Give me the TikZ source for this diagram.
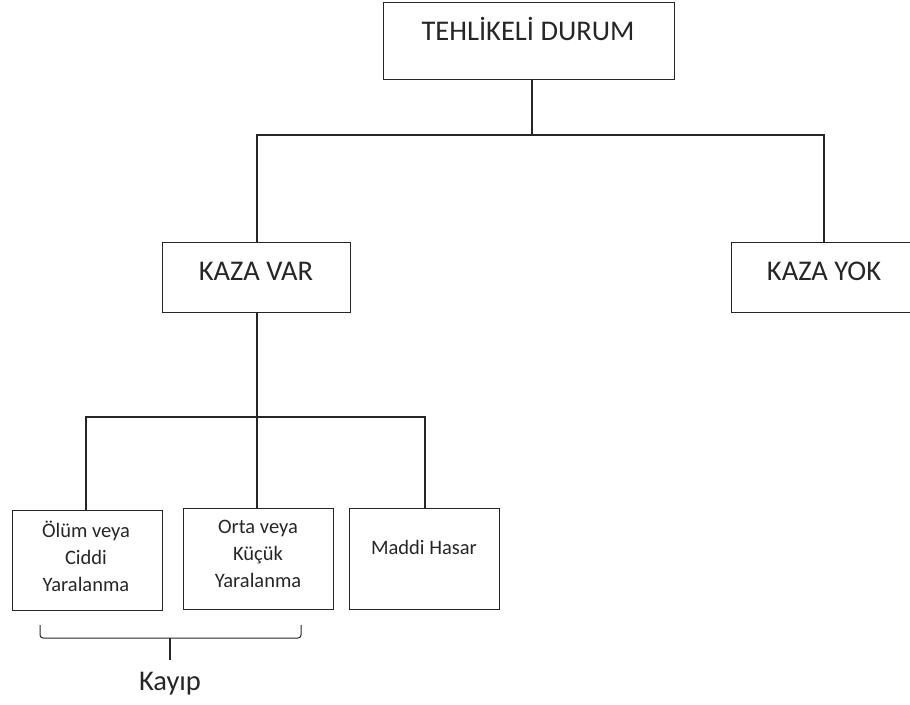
\documentclass[tikz,border=0pt]{standalone}
\usepackage{fontspec}
\setmainfont{Carlito}
\usetikzlibrary{positioning}
\begin{document}
\begin{tikzpicture}[x=1pt,y=-1pt,
  box/.style={draw=black!85,line width=1.2pt,minimum width=#1,anchor=north west,inner sep=0pt},
  big/.style={font=\fontsize{28.5}{32}\selectfont,text=black!85},
  small/.style={font=\fontsize{20.5}{27}\selectfont,text=black!85,align=center},
  conn/.style={draw=black!85,line width=1.1pt}]
\useasboundingbox (0,0) rectangle (910,704);
% boxes
\node[box=291pt,minimum height=77pt] (top) at (383,2) {};
\node[box=188pt,minimum height=70pt] (var) at (162,242) {};
\node[box=185pt,minimum height=70pt] (yok) at (731,242) {};
\node[box=150pt,minimum height=100pt] (b1) at (12,510) {};
\node[box=150pt,minimum height=101pt] (b2) at (183,508) {};
\node[box=150pt,minimum height=101pt] (b3) at (349,508) {};
% texts
\node[big] (ttop) at (528,29) {TEHLİKELİ DURUM};
\node[big] (tvar) at (256,271) {KAZA VAR};
\node[big] (tyok) at (824,271) {KAZA YOK};
\node[small,anchor=north] (tb1) at (86,518) {Ölüm veya\\Ciddi\\Yaralanma};
\node[small,anchor=north] (tb2) at (258,517) {Orta veya\\Küçük\\Yaralanma};
\node[small] (tb3) at (424,547) {Maddi Hasar};
\node[big] (kayip) at (170,684) {Kayıp};
% junctions
\coordinate (j1) at (532,135);
\coordinate (j2) at (257,417);
\coordinate (bl) at (40,625);
\coordinate (br) at (301,625);
\coordinate (bm) at (170,638);
\coordinate (bt) at (170,660);
% connectors
\draw[conn] (top.south -| j1) -- (j1);
\draw[conn] (var.north -| 257,0) |- (j1) -| (yok.north -| 824,0);
\draw[conn] (var.south -| j2) -- (j2);
\draw[conn] (b1.north -| 86,0) |- (j2) -| (b3.north -| 425,0);
\draw[conn] (j2) -- (b2.north -| j2);
% brace
\draw[conn,line width=1pt,rounded corners=3pt] (bl) -- (bl |- bm) -- (br |- bm) -- (br);
\draw[conn,line width=1.6pt] (bm) -- (bt);
\end{tikzpicture}
\end{document}
